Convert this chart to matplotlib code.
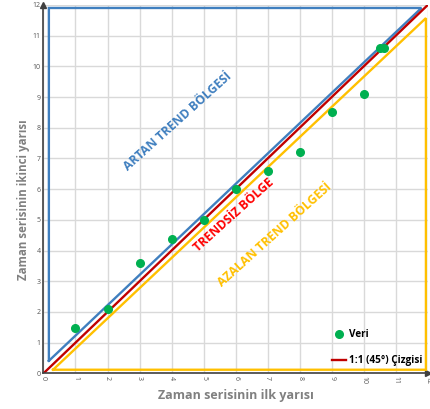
import matplotlib.pyplot as plt

# veri noktalari (ilk yari, ikinci yari)
ilk_yari = [1, 2, 3, 4, 5, 6, 7, 8, 9, 10, 10.5, 10.62]
ikinci_yari = [1.48, 2.09, 3.59, 4.39, 5.0, 6.0, 6.59, 7.2, 8.5, 9.1, 10.6, 10.6]

# bolge sinirlari
artan_x = [0.17, 0.17, 11.8, 0.17]
artan_y = [0.41, 11.9, 11.9, 0.41]
azalan_x = [0.3, 11.94, 11.94, 0.3]
azalan_y = [0.12, 0.12, 11.57, 0.12]
cizgi_x = [0, 12]
cizgi_y = [0, 12]

plt.rcParams['font.family'] = ['Open Sans', 'DejaVu Sans']

fig = plt.figure(figsize=(4.3, 4.09), dpi=100)
ax = fig.add_axes([0.101, 0.087, 0.894, 0.901])

ax.set_xlim(0, 12)
ax.set_ylim(0, 12)
ax.set_xticks(range(13))
ax.set_yticks(range(13))
ax.grid(True, color='#d9d9d9', linewidth=1)
ax.set_axisbelow(True)
ax.tick_params(labelsize=5, colors='#555555', length=0, pad=2)
ax.tick_params(axis='x', labelrotation=-90)

for s in ['top', 'right']:
    ax.spines[s].set_visible(False)
ax.spines['left'].set_color('#404040')
ax.spines['bottom'].set_color('#404040')
ax.spines['left'].set_linewidth(1.2)
ax.spines['bottom'].set_linewidth(1.2)
ax.plot(0, 1, '^', color='#404040', markersize=4, transform=ax.transAxes, clip_on=False)
ax.plot(1, 0, '>', color='#404040', markersize=4, transform=ax.transAxes, clip_on=False)

ax.plot(artan_x, artan_y, color='#3f7fbf', linewidth=1.7, solid_joinstyle='miter')
ax.plot(azalan_x, azalan_y, color='#ffc000', linewidth=1.7, solid_joinstyle='miter')
ax.plot(cizgi_x, cizgi_y, color='#c00000', linewidth=1.7, label='1:1 (45°) Çizgisi')
ax.plot(ilk_yari, ikinci_yari, 'o', color='#00b050', markersize=5.5, label='Veri', zorder=5)

ax.text(4.18, 8.2, 'ARTAN TREND BÖLGESİ', color='#3f7fbf', fontsize=8.8,
        fontweight='bold', rotation=42, ha='center', va='center')
ax.text(5.95, 5.17, 'TRENDSİZ BÖLGE', color='#ff0000', fontsize=8.8,
        fontweight='bold', rotation=42, ha='center', va='center')
ax.text(7.22, 4.51, 'AZALAN TREND BÖLGESİ', color='#ffc000', fontsize=8.8,
        fontweight='bold', rotation=42, ha='center', va='center')

handles, labels = ax.get_legend_handles_labels()
ax.legend(handles[::-1], labels[::-1], loc='lower right', bbox_to_anchor=(1.01, -0.005),
          frameon=False, prop={'weight': 'bold', 'size': 7.2}, handlelength=1.4,
          labelspacing=1.5, handletextpad=0.3)

ax.set_xlabel('Zaman serisinin ilk yarısı', fontsize=9.0, fontweight='bold',
              color='#808080', va='center')
ax.set_ylabel('Zaman serisinin ikinci yarısı', fontsize=8.3, fontweight='bold',
              color='#808080', va='center')
ax.xaxis.set_label_coords(0.501, -0.059)
ax.yaxis.set_label_coords(-0.053, 0.471)

fig.savefig('out.png', dpi=100)
